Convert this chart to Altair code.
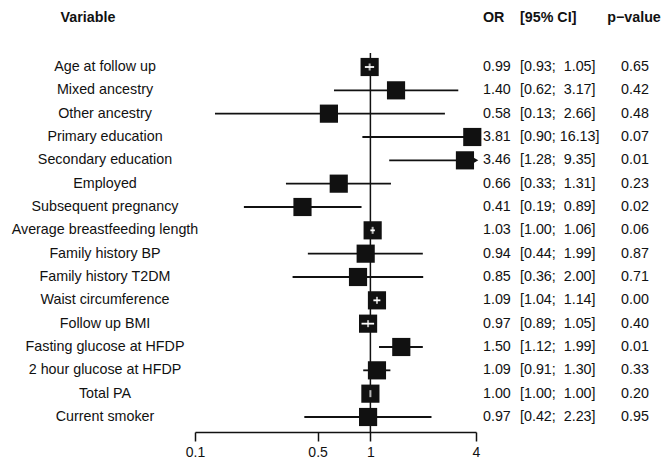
import math
import altair as alt
import pandas as pd

variables = [
    "Age at follow up", "Mixed ancestry", "Other ancestry", "Primary education",
    "Secondary education", "Employed", "Subsequent pregnancy",
    "Average breastfeeding length", "Family history BP", "Family history T2DM",
    "Waist circumference", "Follow up BMI", "Fasting glucose at HFDP",
    "2 hour glucose at HFDP", "Total PA", "Current smoker",
]
or_vals = [0.99, 1.40, 0.58, 3.81, 3.46, 0.66, 0.41, 1.03, 0.94, 0.85, 1.09, 0.97, 1.50, 1.09, 1.00, 0.97]
ci_lo = [0.93, 0.62, 0.13, 0.90, 1.28, 0.33, 0.19, 1.00, 0.44, 0.36, 1.04, 0.89, 1.12, 0.91, 1.00, 0.42]
ci_hi = [1.05, 3.17, 2.66, 16.13, 9.35, 1.31, 0.89, 1.06, 1.99, 2.00, 1.14, 1.05, 1.99, 1.30, 1.00, 2.23]
p_vals = ["0.65", "0.42", "0.48", "0.07", "0.01", "0.23", "0.02", "0.06",
          "0.87", "0.71", "0.00", "0.40", "0.01", "0.33", "0.20", "0.95"]
x_ticks = [0.1, 0.5, 1, 4]
x_min, x_max = 0.1, 4

W, H = 281, 379
FONT = "Liberation Sans"
FS = 14.3


def ci_text(lo, hi):
    hs = f"{hi:.2f}"
    pad = "\u00a0\u00a0" if len(hs) < 5 else "\u00a0"
    return f"[{lo:.2f};{pad}{hs}]"


rows = []
for i, v in enumerate(variables):
    o, l, h = or_vals[i], ci_lo[i], ci_hi[i]
    inside = (math.log10(h) - math.log10(o) < 0.05) and (math.log10(o) - math.log10(l) < 0.05)
    rows.append(dict(
        idx=i, var=v, est=o, lo=l, hi=min(h, x_max), trunc=h > x_max, inside=inside,
        or_txt=f"{o:.2f}", ci_txt=ci_text(l, h), p_txt=p_vals[i],
    ))
df = pd.DataFrame(rows)

xs = alt.Scale(type="log", domain=[x_min, x_max], clamp=True, nice=False)
ys = alt.Scale(domain=[-0.6, 15.643], reverse=True, nice=False, zero=False)
x_axis = alt.Axis(values=x_ticks,
                  labelExpr="datum.value == 0.1 ? '0.1' : datum.value == 0.5 ? '0.5' : format(datum.value, 'd')",
                  title=None, grid=False, tickSize=9, labelPadding=4, labelFontSize=14,
                  labelFont=FONT, labelColor="#111", domainColor="#111", tickColor="#111",
                  domainWidth=1.5, tickWidth=1.5, labelFlush=False)

base = alt.Chart(df)
y_enc = alt.Y("idx:Q", scale=ys, axis=None)

ref = alt.Chart(pd.DataFrame({"x": [1]})).mark_rule(color="#111", strokeWidth=1.5).encode(
    x=alt.X("x:Q", scale=xs, axis=x_axis), y=alt.value(0), y2=alt.value(H))

ci = base.mark_rule(color="#111", strokeWidth=1.8).encode(
    x=alt.X("lo:Q", scale=xs), x2="hi:Q", y=y_enc)

arrows = base.transform_filter("datum.trunc").mark_point(
    shape="triangle-right", filled=True, color="#111", size=28, opacity=1).encode(
    x=alt.X("hi:Q", scale=xs), y=y_enc)

squares = base.mark_point(shape="square", filled=True, color="#111", size=330, opacity=1).encode(
    x=alt.X("est:Q", scale=xs), y=y_enc)

inner_line = base.transform_filter("datum.inside").mark_rule(color="white", strokeWidth=1.8).encode(
    x=alt.X("lo:Q", scale=xs), x2="hi:Q", y=y_enc)
inner_tick = base.transform_filter("datum.inside").mark_tick(
    color="white", orient="vertical", size=7, thickness=2).encode(
    x=alt.X("est:Q", scale=xs), y=y_enc)


def col_text(field, x_px, align):
    return base.mark_text(font=FONT, fontSize=FS, color="#111", align=align, baseline="middle").encode(
        x=alt.value(x_px), y=y_enc, text=f"{field}:N")


labels = col_text("var", -90, "center")
or_col = col_text("or_txt", 288, "left")
ci_col = col_text("ci_txt", 325, "left")
p_col = col_text("p_txt", 440, "center")

headers_df = pd.DataFrame({
    "t": ["Variable", "OR", "[95% CI]", "p\u2212value"],
    "xp": [-107, 288, 325, 439],
    "al": ["center", "left", "left", "center"],
})


def head(t, x_px, align):
    return alt.Chart(pd.DataFrame({"t": [t]})).mark_text(
        font=FONT, fontSize=FS, fontWeight="bold", color="#111", align=align, baseline="middle").encode(
        x=alt.value(x_px), y=alt.value(-35), text="t:N")


headers = [head(r.t, r.xp, r.al) for r in headers_df.itertuples()]

chart = alt.layer(ref, ci, arrows, squares, inner_line, inner_tick,
                  labels, or_col, ci_col, p_col, *headers).properties(
    width=W, height=H,
    autosize=alt.AutoSizeParams(type="none"),
    padding={"left": 187, "top": 45, "right": 186, "bottom": 45},
).configure_view(stroke=None)

chart.save("out.html", embed_options={"renderer": "svg", "actions": False})
